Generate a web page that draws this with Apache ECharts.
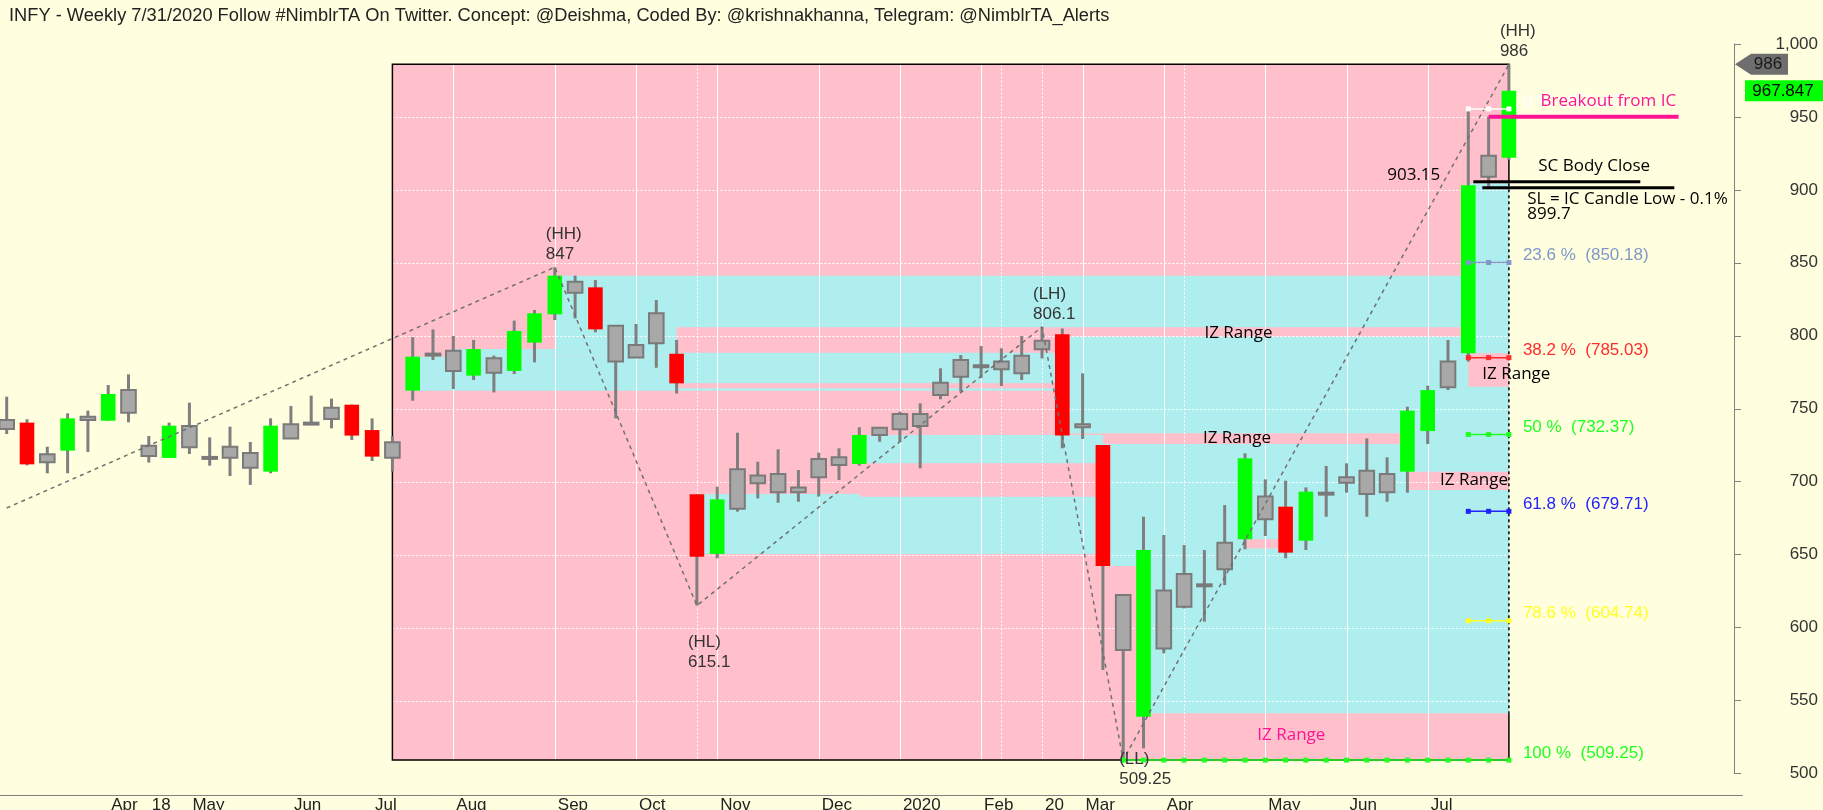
<!DOCTYPE html>
<html><head><meta charset="utf-8">
<script src="https://cdn.jsdelivr.net/npm/echarts@6/dist/echarts.min.js"></script>
<style>html,body{margin:0;padding:0;background:#FFFFE0}#c{width:1823px;height:810px}</style>
</head><body><div id="c"></div>
<script>
const titleText = 'INFY - Weekly 7/31/2020 Follow #NimblrTA On Twitter. Concept: @Deishma, Coded By: @krishnakhanna, Telegram: @NimblrTA_Alerts';

// weekly bars (index 0 = first visible week)
const barState = ['N','R','N','G','N','G','N','N','G','N','N','N','N','G','N','N','N','R','R','N',
 'G','N','N','G','N','G','G','G','N','R','N','N','N','R','R','G','N','N','N','N',
 'N','N','G','N','N','N','N','N','N','N','N','N','R','N','R','N','G','N','N','N',
 'N','G','N','R','G','N','N','N','N','G','G','N','G','N','G'];
const opens = [742.3,740.5,718.8,721.3,744.6,741.8,762.8,724.7,716.3,738.2,717,724,719.7,706.9,739.3,740.5,750.7,752.8,735.4,727,
 762.4,787.8,789.8,772.7,784.6,775.9,795.3,814.7,837.1,833.2,806.9,793.7,815.4,787.7,691.4,650.5,708.5,704.2,705.3,696.1,
 715.5,716.7,712.2,737,746.4,746.4,767.9,783.4,779.8,782.3,786.4,796.6,801,739.3,725.2,622.4,539,625.4,636.8,629.7,
 658.2,660.5,689.8,682.9,659.6,692.5,703,707.6,705.3,706.9,734.7,782.3,788,923.4,922];
const closes = [736.1,711.9,713.3,743.4,742.3,760.1,747.3,717.6,738.4,723.6,716,716.5,709.6,738.4,729.7,739.5,743,731.6,717.2,716.5,
 785.7,786.8,775.9,790.9,774.7,803.3,815.4,841.2,829.5,804.4,782.3,785.2,794.8,767.4,648.6,687.9,681.5,698.9,692.7,692.7,
 703,711.5,732,732,735.9,738.2,759.4,772,778.8,777,774.3,790.7,731.6,737.3,642.3,584.7,653.2,585.8,614.4,628.7,
 640,716,674.2,651.4,693.2,691.5,699.3,691.6,692.7,748.7,762.8,764.7,903.15,909,967.847];
const lows = [732.7,711.2,705.8,705.8,720.4,741.8,740.7,713.1,716.3,719,711,703.9,697.8,705.8,729.7,738.9,736.6,728.6,714.2,706.9,
 755.5,783.4,763.5,769.7,761.2,773.8,781.8,810.8,811.9,802.4,743.4,785.2,778.1,760.4,615.1,647.5,679.5,688.6,685.6,686.3,
 689.8,701.2,711,727.4,727.4,709.2,756.5,761.7,771,765.6,769.7,784.5,722.9,729.3,571,509.25,517.3,582.4,613.2,604.1,
 629.2,653.7,662.8,647.5,653.2,676,692.5,676,686.3,692.5,725.8,762.8,782.3,902.3,920.4];
const highs = [758.3,742.8,724,746.9,748.7,766.3,773.6,731.3,740.5,754.2,730.4,737.7,727.2,743.4,751.9,759,756.9,752.8,743.4,731.3,
 799,804.4,799.8,797.1,786.4,810.4,817.7,847,841.2,838.2,806.9,808.1,824.5,797.1,691.4,696.6,733.6,713.7,722.2,708,
 719.9,722.9,737.3,737,748,753.7,777.7,786.8,793,791.4,799.8,806.1,805,774.3,725.2,622.4,676,663.5,656.6,653.2,
 684,719.5,701.6,700.7,696.1,710.8,712.6,729.7,716.7,751.4,765.8,797.1,955.47,950.2,986];

// x axis tick labels (bar index, text)
const monthTicks = [[5,'Apr'],[7,'18'],[9,'May'],[14,'Jun'],[18,'Jul'],[22,'Aug'],[27,'Sep'],[31,'Oct'],[35,'Nov'],[40,'Dec'],
 [44,'2020'],[48,'Feb'],[51,'20'],[53,'Mar'],[57,'Apr'],[62,'May'],[66,'Jun'],[70,'Jul']];
const minorTicks = [49, 58];
const dottedVLines = [7, 34, 49, 51, 58];
const yTicks = [500,550,600,650,700,750,800,850,900,950,1000];

// swing points (zig-zag)
const swingIdx = [0, 27, 34, 51, 55, 74];
const swingVal = [682, 847, 615.1, 806.1, 509.25, 986];
const swingTag = ['', 'HH', 'HL', 'LH', 'LL', 'HH'];
const swingText = ['', '847', '615.1', '806.1', '509.25', '986'];

// zones: [fromBar, toBar, low, high, kind]  box / c = cyan IZ / p = pink range
const zones = [
 [19,74,509.25,986,'box'],
 [20,74,762.4,785.7,'c'],
 [22,74,785.7,791,'c'],
 [27,74,791,841.2,'c'],
 [33,74,764,805.8,'p'],
 [33,74,767.4,788.4,'c'],
 [34,74,650.5,691.5,'c'],
 [42,74,689.7,712.6,'p'],
 [42,74,712.6,732,'c'],
 [52,74,733,799.4,'c'],
 [54,74,642.3,725.8,'c'],
 [54,74,725.8,733,'p'],
 [56,74,541.3,653.2,'c'],
 [61,63,654.3,660.5,'p'],
 [69,74,706.9,748.7,'c'],
 [69,74,694.3,706.9,'p'],
 [72,74,788,904.5,'c'],
 [72,74,765,788,'p']
];
const dashedEdgeLow = 541.3, dashedEdgeHigh = 904.5;

// fib retracement levels
const fibPct = ['0 %','23.6 %','38.2 %','50 %','61.8 %','78.6 %','100 %'];
const fibVal = [955.47, 850.18, 785.03, 732.37, 679.71, 604.74, 509.25];
const fibFrom = [72, 72, 72, 72, 72, 72, 55];
const fibColor = ['#FFFFFF','#7F98C8','#FF2A2A','#22FF22','#2222FF','#FFFF22','#22FF22'];

// annotations
const breakoutIdx = 73, breakoutLevel = 950.1;
const scIdx = 72, scLevel = 905.5, slLevel = 901.5, slText = '899.7', scCloseText = '903.15', scClose = 903.15;
const izLabels = [[59,802,0,'#000'],[59,729.8,-1.5,'#000'],[71,701.2,-8,'#000'],[72,773.9,14,'#000'],[62,526.5,-8,'#FF1493']];
const lastHigh = 986, lastClose = 967.847;

const PINK = '#FFC0CB', CYAN = '#AFEEEE', WICK = '#7F7F7F';
const NCAT = 86, Y_OFFSET = -8.35;
const cats = Array.from({length: NCAT}, (_, i) => String(i));
const tickMap = {}; monthTicks.forEach(t => tickMap[t[0]] = t[1]);
const tickSet = new Set(monthTicks.map(t => t[0]).concat(minorTicks));
const AR = '"Liberation Sans", Arial, sans-serif';
const OS = '"Open Sans", sans-serif';

const chart = echarts.init(document.getElementById('c'));

function renderZone(params, api) {
  const z = zones[params.dataIndex];
  const p1 = api.coord([z[0], z[3]]);
  const p2 = api.coord([z[1], z[2]]);
  return {type: 'rect', shape: {x: p1[0], y: p1[1], width: p2[0] - p1[0], height: p2[1] - p1[1]},
    style: {fill: z[4] === 'c' ? CYAN : PINK, stroke: null}};
}

function renderFrame(params, api) {
  const ch = [];
  const b = zones[0];
  const tl = api.coord([b[0], b[3]]), br = api.coord([b[1], b[2]]);
  yTicks.forEach(v => {
    if (v < b[2] || v > b[3]) return;
    const y = Math.round(api.coord([0, v])[1]) + 0.5;
    ch.push({type: 'line', shape: {x1: tl[0], y1: y, x2: br[0], y2: y}, style: {stroke: '#FFFFFF', fill: null, lineWidth: 1, lineDash: [2, 2]}});
  });
  monthTicks.forEach(t => {
    if (dottedVLines.indexOf(t[0]) >= 0 || t[0] <= b[0] || t[0] >= b[1]) return;
    const x = Math.round(api.coord([t[0], 750])[0]) + 0.5;
    ch.push({type: 'line', shape: {x1: x, y1: tl[1], x2: x, y2: br[1]}, style: {stroke: '#FFFFFF', fill: null, lineWidth: 1}});
  });
  dottedVLines.forEach(i => {
    if (i <= b[0] || i >= b[1]) return;
    const x = Math.round(api.coord([i, 750])[0]) + 0.5;
    ch.push({type: 'line', shape: {x1: x, y1: tl[1], x2: x, y2: br[1]}, style: {stroke: '#FFFFFF', fill: null, lineWidth: 1, lineDash: [2, 2]}});
  });
  // box outline
  const eHi = api.coord([b[1], dashedEdgeHigh])[1], eLo = api.coord([b[1], dashedEdgeLow])[1];
  ch.push({type: 'polyline', shape: {points: [[br[0], eHi], [br[0], tl[1]], [tl[0], tl[1]], [tl[0], br[1]], [br[0], br[1]], [br[0], eLo]]},
    style: {stroke: '#000', fill: null, lineWidth: 1.5}});
  ch.push({type: 'line', shape: {x1: br[0], y1: eHi, x2: br[0], y2: eLo}, style: {stroke: '#000', fill: null, lineWidth: 1.5, lineDash: [3, 3]}});
  return {type: 'group', children: ch};
}

function renderCandle(params, api) {
  const idx = api.value(0);
  const pO = api.coord([idx, api.value(1)]), pC = api.coord([idx, api.value(2)]);
  const pL = api.coord([idx, api.value(3)]), pH = api.coord([idx, api.value(4)]);
  const s = api.value(5);
  const w = api.size([1, 0])[0] * 0.72;
  const x = pO[0];
  const top = Math.min(pO[1], pC[1]);
  const h = Math.max(Math.abs(pO[1] - pC[1]), 2);
  let style;
  if (s === 1) style = {fill: '#00FF00', stroke: null};
  else if (s === 2) style = {fill: '#FF0000', stroke: null};
  else style = {fill: '#A8A8A8', stroke: '#7A7A7A', lineWidth: 2};
  return {type: 'group', children: [
    {type: 'line', shape: {x1: x, y1: pH[1], x2: x, y2: pL[1]}, style: {stroke: WICK, fill: null, lineWidth: 3}},
    {type: 'rect', shape: {x: x - w / 2, y: top, width: w, height: h}, style: style}
  ]};
}

function txt(text, x, y, color, font, align, va, lh) {
  const st = {text: text, x: x, y: y, fill: color, stroke: null, font: font, align: align, verticalAlign: va};
  if (lh) st.lineHeight = lh;
  return {type: 'text', style: st};
}

function renderNotes(params, api) {
  const cs = params.coordSys;
  const axisX = cs.x + cs.width + Y_OFFSET;
  const X = i => api.coord([i, 750])[0];
  const Y = v => api.coord([0, v])[1];
  const ch = [];
  // swing labels
  swingIdx.forEach((i, k) => {
    if (!swingTag[k]) return;
    const x = X(i), y = Y(swingVal[k]);
    const t = '(' + swingTag[k] + ')\n' + swingText[k];
    let sx = x - 9, sy, va;
    if (swingTag[k] === 'HL') { sy = y + 27; va = 'top'; }
    else if (swingTag[k] === 'LL') { sx = x - 4; sy = y - 11; va = 'top'; }
    else { sy = y - 3; va = 'bottom'; }
    ch.push(txt(t, sx, sy, '#333', '17px ' + AR, 'left', va, 20));
  });
  // IZ range labels
  izLabels.forEach(l => {
    ch.push(txt('IZ Range', X(l[0]) + l[2], Y(l[1]), l[3], '17px ' + OS, 'left', 'middle'));
  });
  // breakout
  const xb = X(breakoutIdx), yb = Y(breakoutLevel);
  ch.push({type: 'line', shape: {x1: xb, y1: yb, x2: xb + 190, y2: yb}, style: {stroke: '#FF1493', fill: null, lineWidth: 4}});
  ch.push(txt('Breakout from IC', xb + 52, yb - 16, '#FF1493', '17px ' + OS, 'left', 'middle'));
  // SC / SL
  const xs = X(scIdx), ysc = Y(scLevel), ysl = Y(slLevel);
  ch.push({type: 'line', shape: {x1: xs + 5, y1: ysc, x2: xs + 172, y2: ysc}, style: {stroke: '#000', fill: null, lineWidth: 3}});
  ch.push({type: 'line', shape: {x1: xs + 14, y1: ysl, x2: xs + 206, y2: ysl}, style: {stroke: '#000', fill: null, lineWidth: 3}});
  ch.push(txt('SC Body Close', xs + 70, ysc - 15.5, '#000', '17px ' + OS, 'left', 'middle'));
  ch.push(txt('SL = IC Candle Low - 0.1%', xs + 59, ysl + 11.5, '#000', '17px ' + OS, 'left', 'middle'));
  ch.push(txt(slText, xs + 59, ysl + 27, '#000', '17px ' + OS, 'left', 'middle'));
  ch.push(txt(scCloseText, xs - 28, Y(scClose) - 10, '#000', '17px ' + OS, 'right', 'middle'));
  // axis tags
  const yh = Y(lastHigh);
  ch.push({type: 'polygon', shape: {points: [[axisX + 1, yh], [axisX + 17, yh - 10.5], [axisX + 54, yh - 10.5], [axisX + 54, yh + 10.5], [axisX + 17, yh + 10.5]]}, style: {fill: '#6E6E6E', stroke: null}});
  ch.push(txt(String(lastHigh), axisX + 34, yh, '#1A1A1A', '17px ' + AR, 'center', 'middle'));
  const yc = Y(lastClose);
  ch.push({type: 'rect', shape: {x: axisX + 11, y: yc - 10.5, width: 80, height: 21}, style: {fill: '#00FF00', stroke: null}});
  ch.push(txt(String(lastClose), axisX + 49, yc, '#000', '17px ' + AR, 'center', 'middle'));
  return {type: 'group', children: ch};
}

const candleData = opens.map((o, i) => [i, o, closes[i], lows[i], highs[i], barState[i] === 'G' ? 1 : (barState[i] === 'R' ? 2 : 0)]);
const zigData = new Array(NCAT).fill(null);
swingIdx.forEach((i, k) => zigData[i] = swingVal[k]);

const fibSeries = fibVal.map((v, k) => {
  const d = new Array(NCAT).fill(null);
  for (let i = fibFrom[k]; i <= 74; i++) d[i] = v;
  return {
    type: 'line', data: d, z: 4, symbol: 'rect', symbolSize: 5, showSymbol: true,
    lineStyle: {color: fibColor[k], width: 1.5}, itemStyle: {color: fibColor[k]},
    endLabel: {show: true, formatter: () => fibPct[k] + '  (' + v.toFixed(2) + ')', color: fibColor[k],
      fontSize: 17, fontFamily: AR, distance: 14, offset: [0, -7]},
    silent: true
  };
});

chart.setOption({
  animation: false,
  backgroundColor: '#FFFFE0',
  title: {text: titleText, left: 4, top: 2, textStyle: {fontSize: 18.25, fontWeight: 'normal', color: '#222', fontFamily: AR}},
  grid: {left: -3.45, right: 80.65, top: 43.9, bottom: 36.4, outerBoundsMode: 'none', containLabel: false},
  xAxis: {
    type: 'category', data: cats, boundaryGap: true, offset: 21.4,
    axisLine: {lineStyle: {color: '#808080', width: 1}},
    axisTick: {alignWithLabel: true, interval: (i) => tickSet.has(i), length: 6, lineStyle: {color: '#808080'}},
    axisLabel: {interval: (i) => tickMap[i] !== undefined, formatter: (v, i) => tickMap[i] || '', align: 'left',
      padding: [0, 0, 0, 3], margin: 2, fontSize: 17, color: '#222', fontFamily: AR},
    splitLine: {show: false}
  },
  yAxis: {
    type: 'value', position: 'right', offset: Y_OFFSET, min: 500, max: 1000, interval: 50, scale: true,
    axisLine: {show: true, lineStyle: {color: '#808080', width: 1}},
    axisTick: {show: true, length: 7, lineStyle: {color: '#808080'}},
    axisLabel: {align: 'right', margin: 84, fontSize: 17, color: '#333', fontFamily: AR, formatter: v => v.toLocaleString('en-US')},
    splitLine: {show: false}
  },
  series: [
    {type: 'custom', renderItem: renderZone, data: zones.map(z => [z[0], z[2], z[1], z[3]]), encode: {x: [0, 2], y: [1, 3]}, z: 1, silent: true},
    {type: 'custom', renderItem: renderFrame, data: [[0, 750]], encode: {x: 0, y: 1}, z: 1, silent: true},
    {type: 'custom', renderItem: renderCandle, data: candleData, encode: {x: 0, y: [1, 2, 3, 4]}, z: 2, silent: true},
    {type: 'line', data: zigData, connectNulls: true, showSymbol: false, symbol: 'none', z: 3,
      lineStyle: {color: '#707070', width: 1.5, type: [4, 4]}, silent: true},
    ...fibSeries,
    {type: 'custom', renderItem: renderNotes, data: [[0, 750]], encode: {x: 0, y: 1}, z: 5, silent: true}
  ]
});
</script></body></html>
